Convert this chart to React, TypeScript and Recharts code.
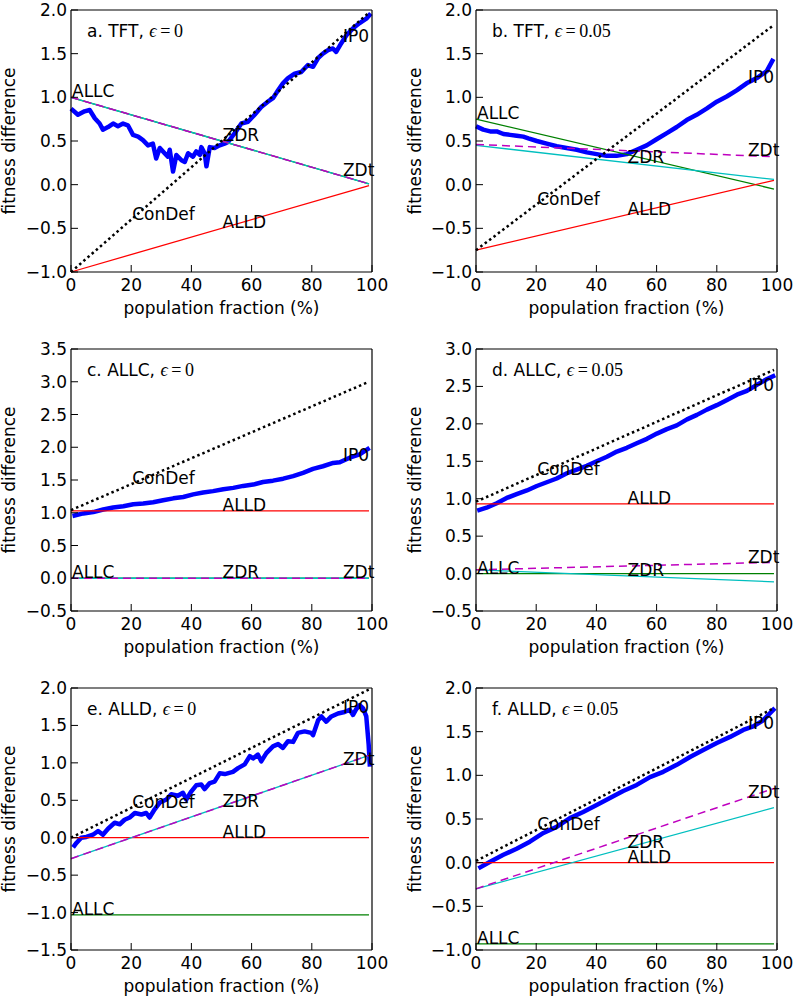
import React from 'react';
import { LineChart, Line, XAxis, YAxis, ReferenceDot } from 'recharts';

const FONT = "'DejaVu Sans', 'Bitstream Vera Sans', sans-serif";
const MATH = "'Liberation Serif', 'DejaVu Serif', serif";

type Pt = [number, number];

// straight lines are given by their value at x = 0 and x = 99
const xEnds = [0, 99];
const xTicks = [0, 20, 40, 60, 80, 100];

const yTicksA = [-1, -0.5, 0, 0.5, 1, 1.5, 2];
const yTicksB = [-1, -0.5, 0, 0.5, 1, 1.5, 2];
const yTicksC = [-0.5, 0, 0.5, 1, 1.5, 2, 2.5, 3, 3.5];
const yTicksD = [-0.5, 0, 0.5, 1, 1.5, 2, 2.5, 3];
const yTicksE = [-1.5, -1, -0.5, 0, 0.5, 1, 1.5, 2];
const yTicksF = [-1, -0.5, 0, 0.5, 1, 1.5, 2];

// a. TFT, eps = 0
const aConDef = [-1.0, 1.97];
const aALLC = [1.0, 0.01];
const aALLD = [-1.0, -0.01];
const aZDR = [1.0, 0.01];
const aZDt = [1.0, 0.01];
const aIP0: Pt[] = [
  [0, 0.87], [2.3, 0.8], [4.5, 0.84], [6.2, 0.855], [7.9, 0.76], [9.5, 0.7], [10.6, 0.63],
  [12.3, 0.66], [14, 0.7], [15.6, 0.67], [17.3, 0.7], [18.9, 0.68], [20.6, 0.57], [22.3, 0.55],
  [23.9, 0.51], [25.6, 0.45], [27.2, 0.47], [28.3, 0.3], [29.5, 0.42], [31.1, 0.36], [32.2, 0.32],
  [32.8, 0.4], [33.9, 0.15], [35, 0.34], [36.7, 0.28], [37.8, 0.26], [38.9, 0.36], [40.5, 0.32],
  [41.6, 0.38], [42.8, 0.34], [43.3, 0.43], [44.4, 0.36], [45, 0.21], [46.1, 0.43], [47.7, 0.42],
  [49.4, 0.45], [51, 0.47], [52.2, 0.49], [54.4, 0.59], [56.6, 0.7], [58.8, 0.72], [61, 0.8],
  [63.2, 0.89], [65.4, 0.95], [67.1, 0.99], [68.8, 1.08], [70.4, 1.16], [72.1, 1.22], [74.3, 1.27],
  [76.5, 1.29], [78.7, 1.37], [80.4, 1.35], [82.1, 1.45], [83.7, 1.5], [85.4, 1.54], [87, 1.56],
  [88.1, 1.52], [89.8, 1.62], [91.5, 1.71], [93.7, 1.79], [95.9, 1.85], [98.1, 1.9], [99.6, 1.96],
];

// b. TFT, eps = 0.05
const bConDef = [-0.75, 1.83];
const bALLC = [0.75, -0.05];
const bALLD = [-0.75, 0.05];
const bZDR = [0.45, 0.06];
const bZDt = [0.46, 0.32];
const bIP0: Pt[] = [
  [0, 0.67], [2.4, 0.63], [4.7, 0.61], [6.9, 0.61], [9.1, 0.58], [11.3, 0.57], [13.5, 0.56],
  [15.7, 0.55], [17.4, 0.53], [20.2, 0.5], [23.5, 0.47], [26.8, 0.44], [30.1, 0.42], [33.5, 0.4],
  [36.8, 0.37], [40.1, 0.35], [43.4, 0.33], [46.7, 0.33], [50.1, 0.35], [53.4, 0.4], [56.7, 0.45],
  [60, 0.52], [63.4, 0.59], [66.7, 0.66], [70, 0.74], [73.3, 0.8], [76.6, 0.87], [80, 0.95],
  [83.3, 1.01], [86.6, 1.08], [89.9, 1.16], [93.3, 1.22], [96.6, 1.3], [98.8, 1.44],
];

// c. ALLC, eps = 0
const cConDef = [1.04, 3.0];
const cALLC = [0, 0];
const cALLD = [1.03, 1.03];
const cZDR = [0, 0];
const cZDt = [0, 0];
const cIP0: Pt[] = [
  [0.5, 0.95], [4.1, 0.99], [7.4, 1.01], [10.7, 1.05], [14, 1.08], [17.4, 1.1], [20.7, 1.13],
  [24, 1.14], [27.3, 1.16], [30.6, 1.19], [34, 1.22], [37.3, 1.24], [40.6, 1.28], [43.9, 1.31],
  [47.2, 1.33], [50.6, 1.36], [53.9, 1.38], [57.2, 1.41], [60.5, 1.43], [63.8, 1.47], [67.1, 1.49],
  [70.5, 1.52], [73.8, 1.56], [77.1, 1.61], [80.4, 1.67], [83.7, 1.71], [87.1, 1.76], [89.3, 1.77],
  [92.6, 1.84], [95.9, 1.89], [99.2, 1.99],
];

// d. ALLC, eps = 0.05
const dConDef = [0.96, 2.72];
const dALLC = [0, 0];
const dALLD = [0.93, 0.93];
const dZDR = [0.05, -0.11];
const dZDt = [0.05, 0.15];
const dIP0: Pt[] = [
  [0.4, 0.84], [3.5, 0.88], [6.9, 0.94], [10.2, 1.01], [13.5, 1.06], [16.9, 1.11], [20.2, 1.17],
  [23.5, 1.22], [26.8, 1.27], [30.2, 1.34], [33.5, 1.39], [36.8, 1.44], [40.1, 1.5], [43.5, 1.56],
  [46.8, 1.63], [50.1, 1.68], [53.4, 1.74], [56.8, 1.8], [60.1, 1.87], [63.4, 1.93], [66.7, 1.98],
  [70.1, 2.06], [73.4, 2.12], [76.7, 2.19], [80, 2.25], [83.4, 2.32], [86.7, 2.39], [90, 2.44],
  [93.3, 2.52], [96.7, 2.6], [99.4, 2.65],
];

// e. ALLD, eps = 0
const eConDef = [0.0, 1.98];
const eALLC = [-1.03, -1.03];
const eALLD = [0, 0];
const eZDR = [-0.28, 1.1];
const eZDt = [-0.28, 1.1];
const eIP0: Pt[] = [
  [0.7, -0.13], [1.8, -0.07], [3.4, 0.0], [5.1, 0.01], [7.3, 0.04], [9, 0.09], [10.6, 0.04],
  [12.3, 0.12], [14.5, 0.2], [16.2, 0.18], [17.8, 0.24], [19.5, 0.27], [21.2, 0.33], [23.4, 0.31],
  [25, 0.33], [26.1, 0.27], [27.8, 0.38], [29.5, 0.47], [31.7, 0.51], [33.3, 0.58], [35.5, 0.56],
  [37.2, 0.6], [38.3, 0.51], [40, 0.62], [41.6, 0.7], [43.3, 0.71], [44.4, 0.65], [46.1, 0.73],
  [47.7, 0.75], [49.4, 0.86], [51.1, 0.85], [53.8, 0.88], [55.5, 0.93], [57.7, 0.98], [59.4, 1.09],
  [60.5, 1.06], [62.1, 1.11], [63.2, 1.02], [64.9, 1.13], [67.1, 1.22], [68.8, 1.25], [70.4, 1.2],
  [72.1, 1.29], [73.8, 1.28], [75.4, 1.4], [77.6, 1.42], [79.8, 1.4], [80.4, 1.37], [82.1, 1.57],
  [83.2, 1.62], [84.8, 1.55], [86.5, 1.62], [88.7, 1.66], [90.9, 1.68], [92.6, 1.71], [93.7, 1.64],
  [94.8, 1.72], [95.9, 1.77], [97, 1.73], [98.1, 1.62], [98.9, 1.24], [99.3, 0.95],
];

// f. ALLD, eps = 0.05
const fConDef = [0.02, 1.77];
const fALLC = [-0.93, -0.93];
const fALLD = [0, 0];
const fZDR = [-0.3, 0.63];
const fZDt = [-0.3, 0.85];
const fIP0: Pt[] = [
  [0.8, -0.065], [4.7, 0.01], [9.1, 0.09], [13.5, 0.16], [17.9, 0.24], [22.4, 0.34], [26.8, 0.41],
  [31.2, 0.51], [35.6, 0.58], [40.1, 0.66], [44.5, 0.74], [48.9, 0.82], [53.4, 0.89], [57.8, 0.98],
  [62.2, 1.04], [66.7, 1.12], [71.1, 1.21], [75.5, 1.29], [80, 1.37], [84.4, 1.44], [88.8, 1.52],
  [92.1, 1.56], [95.4, 1.63], [99.3, 1.77],
];

// where each series gets its text tag (x in %)
const labelX: Record<string, number> = { ALLC: 0, ConDef: 20, ZDR: 50, ALLD: 50, ZDt: 90, IP0: 90 };

const lineStyle: Record<string, { stroke: string; width: number; dash?: string }> = {
  ALLC: { stroke: '#008000', width: 1.3 },
  ALLD: { stroke: '#ff0000', width: 1.3 },
  ZDR: { stroke: '#00bfbf', width: 1.3 },
  ZDt: { stroke: '#bf00bf', width: 1.5, dash: '8 5' },
  ConDef: { stroke: '#000000', width: 2.5, dash: '2.5 3' },
};

const toPts = (v: number[]): Pt[] => xEnds.map((x, i) => [x, v[i]] as Pt);

const panels = [
  { letter: 'a', strat: 'TFT', eps: '0', yTicks: yTicksA, lines: { ALLC: aALLC, ALLD: aALLD, ZDR: aZDR, ZDt: aZDt, ConDef: aConDef }, ip0: aIP0 },
  { letter: 'b', strat: 'TFT', eps: '0.05', yTicks: yTicksB, lines: { ALLC: bALLC, ALLD: bALLD, ZDR: bZDR, ZDt: bZDt, ConDef: bConDef }, ip0: bIP0 },
  { letter: 'c', strat: 'ALLC', eps: '0', yTicks: yTicksC, lines: { ALLC: cALLC, ALLD: cALLD, ZDR: cZDR, ZDt: cZDt, ConDef: cConDef }, ip0: cIP0 },
  { letter: 'd', strat: 'ALLC', eps: '0.05', yTicks: yTicksD, lines: { ALLC: dALLC, ALLD: dALLD, ZDR: dZDR, ZDt: dZDt, ConDef: dConDef }, ip0: dIP0 },
  { letter: 'e', strat: 'ALLD', eps: '0', yTicks: yTicksE, lines: { ALLC: eALLC, ALLD: eALLD, ZDR: eZDR, ZDt: eZDt, ConDef: eConDef }, ip0: eIP0 },
  { letter: 'f', strat: 'ALLD', eps: '0.05', yTicks: yTicksF, lines: { ALLC: fALLC, ALLD: fALLD, ZDR: fZDR, ZDt: fZDt, ConDef: fConDef }, ip0: fIP0 },
];

function valueAt(pts: Pt[], x: number) {
  for (let i = 1; i < pts.length; i++) {
    if (pts[i][0] >= x) {
      const [x0, y0] = pts[i - 1];
      const [x1, y1] = pts[i];
      return y0 + ((y1 - y0) * (x - x0)) / (x1 - x0);
    }
  }
  return pts[pts.length - 1][1];
}

const fmtY = (v: number) => (v < 0 ? '\u2212' : '') + Math.abs(v).toFixed(1);
const tickStyle = { fill: '#000', fontSize: 17, fontFamily: FONT };
const frame = { stroke: '#000', strokeWidth: 1.2 };

function Panel({ p, col, left, top }: { p: (typeof panels)[number]; col: number; left: number; top: number }) {
  const W = col === 0 ? 398 : 397;
  const H = 330;
  const plotLeft = col === 0 ? 71 : 76;
  const yAxisW = 50;
  // top axis and right axis are 1px wide, only there to draw the frame and inward ticks
  const margin = { top: 9, right: W - plotLeft - 301 - 1, bottom: 13, left: plotLeft - yAxisW };
  const domain = [p.yTicks[0], p.yTicks[p.yTicks.length - 1]];
  const series: { name: string; pts: Pt[] }[] = Object.entries(p.lines).map(([name, v]) => ({ name, pts: toPts(v) }));
  const tags = [...series, { name: 'IP0', pts: p.ip0 }];

  return (
    <div style={{ position: 'absolute', left, top }}>
      <LineChart width={W} height={H} margin={margin}>
        <XAxis
          type="number"
          dataKey="x"
          domain={[0, 100]}
          ticks={xTicks}
          interval={0}
          height={45}
          tickSize={-7}
          tickMargin={14}
          tick={tickStyle}
          axisLine={frame}
          tickLine={{ stroke: '#000' }}
          label={{
            content: (lp: any) => {
              const vb = lp.viewBox;
              return (
                <text x={vb.x + vb.width / 2} y={vb.y + 42} textAnchor="middle" fontSize={17} fontFamily={FONT} fill="#000">
                  population fraction (%)
                </text>
              );
            },
          }}
        />
        <XAxis
          xAxisId="top"
          orientation="top"
          type="number"
          dataKey="x"
          domain={[0, 100]}
          ticks={xTicks}
          interval={0}
          height={1}
          tickSize={-7}
          tickFormatter={() => ''}
          axisLine={frame}
          tickLine={{ stroke: '#000' }}
          label={{
            content: (lp: any) => {
              const vb = lp.viewBox;
              return (
                <text x={vb.x + 16} y={vb.y + vb.height + 27} fontSize={17} fontFamily={FONT} fill="#000">
                  {`${p.letter}. ${p.strat}, `}
                  <tspan fontFamily={MATH} fontStyle="italic" fontSize={18}>{'\u03f5'}</tspan>
                  <tspan fontFamily={MATH} fontSize={18}>{`\u2009=\u2009${p.eps}`}</tspan>
                </text>
              );
            },
          }}
        />
        <YAxis
          type="number"
          domain={domain}
          ticks={p.yTicks}
          interval={0}
          width={yAxisW}
          tickSize={-7}
          tickMargin={11}
          tick={tickStyle}
          tickFormatter={fmtY}
          axisLine={frame}
          tickLine={{ stroke: '#000' }}
          label={{
            content: (lp: any) => {
              const vb = lp.viewBox;
              const lx = vb.x + vb.width - (col === 0 ? 56 : 55);
              const cy = vb.y + vb.height / 2;
              return (
                <text x={lx} y={cy} transform={`rotate(-90 ${lx} ${cy})`} textAnchor="middle" fontSize={17} fontFamily={FONT} fill="#000">
                  fitness difference
                </text>
              );
            },
          }}
        />
        <YAxis
          yAxisId="right"
          orientation="right"
          type="number"
          domain={domain}
          ticks={p.yTicks}
          interval={0}
          width={1}
          tickSize={-7}
          tickFormatter={() => ''}
          axisLine={frame}
          tickLine={{ stroke: '#000' }}
        />

        <Line
          data={p.ip0.map(([x, y]) => ({ x, y }))}
          dataKey="y"
          type="linear"
          stroke="#0000ff"
          strokeWidth={4.5}
          strokeLinejoin="round"
          dot={false}
          activeDot={false}
          isAnimationActive={false}
        />
        {series.map((s) => {
          const st = lineStyle[s.name];
          return (
            <Line
              key={s.name}
              data={s.pts.map(([x, y]) => ({ x, y }))}
              dataKey="y"
              type="linear"
              stroke={st.stroke}
              strokeWidth={st.width}
              strokeDasharray={st.dash}
              dot={false}
              activeDot={false}
              isAnimationActive={false}
            />
          );
        })}

        {tags.map((t) => (
          <ReferenceDot
            key={`tag-${t.name}`}
            x={labelX[t.name]}
            y={valueAt(t.pts, labelX[t.name])}
            r={0}
            fill="none"
            stroke="none"
            ifOverflow="visible"
            label={{
              content: (lp: any) => {
                const vb = lp.viewBox;
                return (
                  <text x={vb.x + 1} y={vb.y} fontSize={17} fontFamily={FONT} fill="#000">
                    {t.name}
                  </text>
                );
              },
            }}
          />
        ))}
      </LineChart>
    </div>
  );
}

export default function App() {
  const colLeft = [0, 400];
  const rowTop = [0, 339, 678];
  return (
    <div style={{ position: 'absolute', left: 0, top: 0, width: 797, height: 1000, background: '#fff', overflow: 'hidden' }}>
      {panels.map((p, i) => (
        <Panel key={p.letter} p={p} col={i % 2} left={colLeft[i % 2]} top={rowTop[Math.floor(i / 2)]} />
      ))}
    </div>
  );
}
